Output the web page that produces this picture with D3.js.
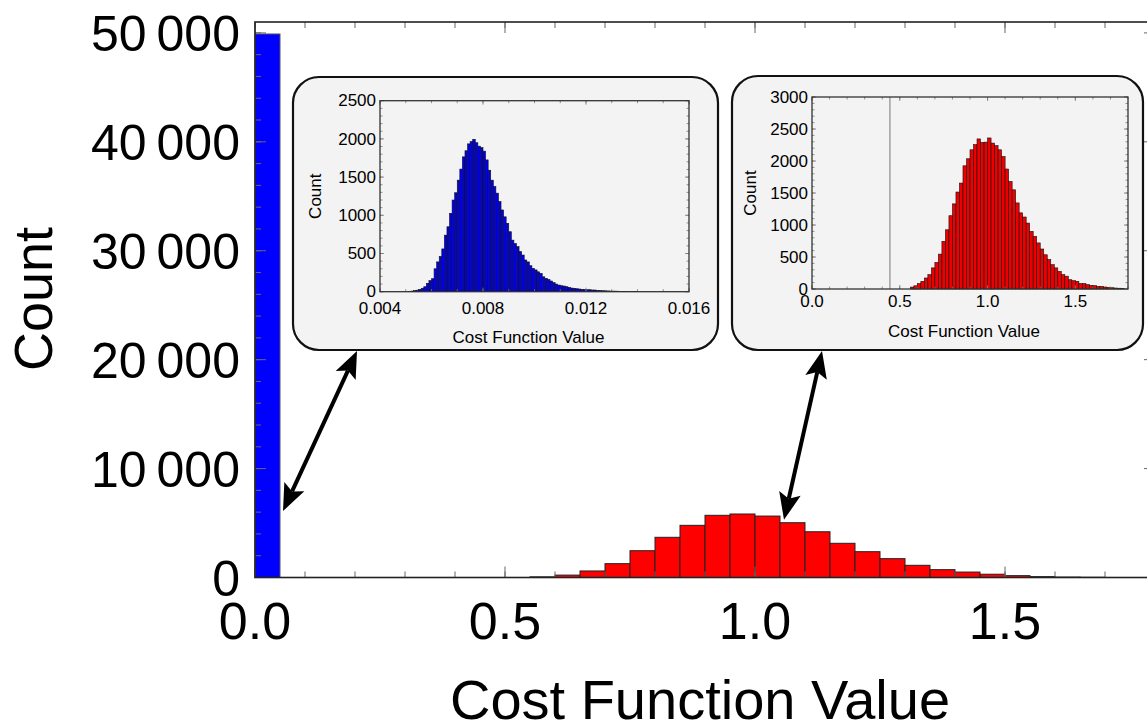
<!DOCTYPE html>
<html><head><meta charset="utf-8">
<script src="https://cdn.jsdelivr.net/npm/d3@7"></script>
<style>body{margin:0;background:#fff}svg{display:block}text{font-family:"Liberation Sans",Arial,sans-serif;fill:#000}</style>
</head><body><svg id="c" width="1147" height="727"></svg>
<script>
// ---------- data ----------
const mainBinWidth = 0.05;
const blueMainStarts = [0.0];
const blueMainCounts = [49900];
const redMainStarts = [0.55,0.60,0.65,0.70,0.75,0.80,0.85,0.90,0.95,1.00,1.05,1.10,1.15,1.20,1.25,1.30,1.35,1.40,1.45,1.50,1.55,1.60,1.65];
const redMainCounts = [60,220,600,1270,2460,3690,4790,5710,5830,5640,5030,4200,3140,2370,1730,1120,720,500,300,170,80,40,20];
const mainYTicks = [0,10000,20000,30000,40000,50000];
const mainYTickLabels = ["0","10\u2009000","20\u2009000","30\u2009000","40\u2009000","50\u2009000"];
const mainXTicks = [0.0,0.5,1.0,1.5];
const mainXTickLabels = ["0.0","0.5","1.0","1.5"];

const blueInsetStart = 0.0050, blueInsetBin = 0.0001;
const blueInsetCounts = [0,3,8,15,20,30,45,65,110,145,170,300,390,460,560,740,850,1025,1200,1295,1460,1605,1765,1845,1935,1965,1995,1950,1905,1885,1840,1725,1590,1460,1375,1290,1180,1070,980,895,785,675,630,590,525,480,415,390,340,305,285,260,240,195,175,160,140,118,100,87,78,74,65,57,48,44,39,35,30,30,26,26,22,22,17,17,13,12,10,9,8,7,6,5,4,4,3,3,2,2];
const blueInsetXTicks = [0.004,0.008,0.012,0.016];
const blueInsetXTickLabels = ["0.004","0.008","0.012","0.016"];
const blueInsetYTicks = [0,500,1000,1500,2000,2500];

const redInsetStart = 0.56, redInsetBin = 0.02;
const redInsetCounts = [30,50,83,120,172,224,330,415,545,745,925,1145,1330,1515,1655,1925,2035,2175,2255,2345,2290,2295,2360,2280,2240,2175,2070,1875,1680,1550,1345,1190,1125,1030,900,820,720,625,535,460,380,330,275,225,200,145,130,120,85,85,68,57,52,42,42,31,25,20,15,12,8];
const redInsetXTicks = [0.0,0.5,1.0,1.5];
const redInsetXTickLabels = ["0.0","0.5","1.0","1.5"];
const redInsetYTicks = [0,500,1000,1500,2000,2500,3000];
const redInsetMarker = [0.444];

const axisTitleX = "Cost Function Value", axisTitleY = "Count";

// ---------- drawing ----------
const svg = d3.select("#c");

function frameTicks(g, x, y, xMajor, xMinor, yMajor, yMinor, lenMaj, lenMin, col, sw){
  const [x0,x1] = x.range(), [y0,y1] = y.range();
  const t = g.append("g").attr("stroke", col).attr("stroke-width", sw);
  xMinor.forEach(v=>{t.append("line").attr("x1",x(v)).attr("x2",x(v)).attr("y1",y0).attr("y2",y0-lenMin);
                     t.append("line").attr("x1",x(v)).attr("x2",x(v)).attr("y1",y1).attr("y2",y1+lenMin);});
  xMajor.forEach(v=>{t.append("line").attr("x1",x(v)).attr("x2",x(v)).attr("y1",y0).attr("y2",y0-lenMaj);
                     t.append("line").attr("x1",x(v)).attr("x2",x(v)).attr("y1",y1).attr("y2",y1+lenMaj);});
  yMinor.forEach(v=>{t.append("line").attr("y1",y(v)).attr("y2",y(v)).attr("x1",x0).attr("x2",x0+lenMin);
                     t.append("line").attr("y1",y(v)).attr("y2",y(v)).attr("x1",x1).attr("x2",x1-lenMin);});
  yMajor.forEach(v=>{t.append("line").attr("y1",y(v)).attr("y2",y(v)).attr("x1",x0).attr("x2",x0+lenMaj);
                     t.append("line").attr("y1",y(v)).attr("y2",y(v)).attr("x1",x1).attr("x2",x1-lenMaj);});
}
function range(a,b,s){const r=[];for(let v=a;v<=b+s*1e-6;v+=s)r.push(+v.toFixed(6));return r;}

// main plot
const X = d3.scaleLinear().domain([0,1.8]).range([255,1155]);
const Y = d3.scaleLinear().domain([0,51000]).range([577.5,22]);
const main = svg.append("g");
main.selectAll("rect.b").data(blueMainStarts.map((s,i)=>({s,c:blueMainCounts[i]}))).join("rect")
  .attr("x",d=>X(d.s)).attr("width",d=>X(d.s+mainBinWidth)-X(d.s)).attr("y",d=>Y(d.c)).attr("height",d=>Y(0)-Y(d.c))
  .attr("fill","#0000ff").attr("stroke","#555").attr("stroke-width",1);
main.selectAll("rect.r").data(redMainStarts.map((s,i)=>({s,c:redMainCounts[i]}))).join("rect")
  .attr("x",d=>X(d.s)).attr("width",d=>X(d.s+mainBinWidth)-X(d.s)).attr("y",d=>Y(d.c)).attr("height",d=>Y(0)-Y(d.c))
  .attr("fill","#ff0000").attr("stroke","#222").attr("stroke-width",1);
frameTicks(main, X, Y, range(0,1.8,0.5), range(0,1.8,0.1), mainYTicks, range(0,50000,2000), 11, 6, "#666", 1);
main.append("rect").attr("x",255).attr("y",22).attr("width",900).attr("height",555.5).attr("fill","none").attr("stroke","#222").attr("stroke-width",1.6);
main.selectAll("text.yt").data(mainYTicks).join("text").attr("x",240).attr("y",d=>Y(d)).attr("dy","0.36em")
  .attr("text-anchor","end").attr("font-size",50).text((d,i)=>mainYTickLabels[i]);
main.selectAll("text.xt").data(mainXTicks).join("text").attr("x",d=>X(d)).attr("y",639)
  .attr("text-anchor","middle").attr("font-size",52).text((d,i)=>mainXTickLabels[i]);
main.append("text").attr("x",700).attr("y",719).attr("text-anchor","middle").attr("font-size",56).text(axisTitleX);
main.append("text").attr("transform","translate(52,299) rotate(-90)").attr("text-anchor","middle").attr("font-size",54).text(axisTitleY);

// inset helper
function inset(box, plot, xDom, yDom, start, bin, counts, fill, xTicks, xLabels, yTicks, xMinorStep, yMinorStep, opts){
  const g = svg.append("g");
  g.append("rect").attr("x",box.x).attr("y",box.y).attr("width",box.w).attr("height",box.h).attr("rx",26).attr("ry",26)
    .attr("fill","#f3f3f3").attr("stroke","#111").attr("stroke-width",2.2);
  const x = d3.scaleLinear().domain(xDom).range([plot.x, plot.x+plot.w]);
  const y = d3.scaleLinear().domain(yDom).range([plot.y+plot.h, plot.y]);
  if(opts.marker) opts.marker.forEach(m=>g.append("line").attr("x1",x(m)).attr("x2",x(m)).attr("y1",plot.y).attr("y2",plot.y+plot.h).attr("stroke","#777").attr("stroke-width",1));
  g.selectAll("rect.bar").data(counts.map((c,i)=>({s:start+i*bin,c}))).join("rect")
    .attr("x",d=>x(d.s)).attr("width",d=>x(d.s+bin)-x(d.s)).attr("y",d=>y(d.c)).attr("height",d=>y(0)-y(d.c))
    .attr("fill",fill).attr("stroke","#111").attr("stroke-width",0.6);
  frameTicks(g, x, y, xTicks, range(xDom[0],xDom[1],xMinorStep), yTicks, range(yDom[0],yDom[1],yMinorStep), 4, 2.5, "#777", 0.8);
  g.append("rect").attr("x",plot.x).attr("y",plot.y).attr("width",plot.w).attr("height",plot.h).attr("fill","none").attr("stroke","#333").attr("stroke-width",1.3);
  g.selectAll("text.yt").data(yTicks).join("text").attr("x",plot.x-4).attr("y",d=>y(d)).attr("dy","0.33em")
    .attr("text-anchor","end").attr("font-size",17).attr("fill","#111").text(d=>d);
  g.selectAll("text.xt").data(xTicks).join("text").attr("x",d=>x(d)).attr("y",opts.xtY)
    .attr("text-anchor","middle").attr("font-size",17).attr("fill","#111").text((d,i)=>xLabels[i]);
  g.append("text").attr("x",plot.x+plot.w/2-6).attr("y",opts.titleY).attr("text-anchor","middle").attr("font-size",17).attr("fill","#111").text(axisTitleX);
  g.append("text").attr("transform",`translate(${opts.countX},${plot.y+plot.h/2}) rotate(-90)`).attr("text-anchor","middle").attr("font-size",17).attr("fill","#111").text(axisTitleY);
  return g;
}
inset({x:293,y:77,w:425,h:273},{x:380,y:100.7,w:309,h:191},[0.004,0.016],[0,2500],blueInsetStart,blueInsetBin,blueInsetCounts,"#0000ee",
  blueInsetXTicks,blueInsetXTickLabels,blueInsetYTicks,0.001,100,{xtY:314,titleY:343,countX:321});
inset({x:732,y:76,w:411,h:274},{x:812,y:97,w:316,h:192},[0,1.8],[0,3000],redInsetStart,redInsetBin,redInsetCounts,"#ee0000",
  redInsetXTicks,redInsetXTickLabels,redInsetYTicks,0.1,100,{xtY:307,titleY:337,countX:756,marker:redInsetMarker});

// arrows (double headed) anchored to data
function arrow(p1,p2){
  const g = svg.append("g");
  const dx=p2[0]-p1[0], dy=p2[1]-p1[1], L=Math.hypot(dx,dy), ux=dx/L, uy=dy/L, nx=-uy, ny=ux;
  const hl=27, hw=11;
  g.append("line").attr("x1",p1[0]+ux*hl*0.8).attr("y1",p1[1]+uy*hl*0.8).attr("x2",p2[0]-ux*hl*0.8).attr("y2",p2[1]-uy*hl*0.8)
    .attr("stroke","#000").attr("stroke-width",4);
  const head=(t,u)=>[[t[0],t[1]],[t[0]+u[0]*hl+nx*hw,t[1]+u[1]*hl+ny*hw],[t[0]+u[0]*hl*0.8,t[1]+u[1]*hl*0.8],[t[0]+u[0]*hl-nx*hw,t[1]+u[1]*hl-ny*hw]];
  g.append("polygon").attr("points",head(p1,[ux,uy]).join(" ")).attr("fill","#000");
  g.append("polygon").attr("points",head(p2,[-ux,-uy]).join(" ")).attr("fill","#000");
}
arrow([X(0.056),Y(6100)],[357,351]);
arrow([X(1.058),Y(5300)],[822,351]);
</script></body></html>
